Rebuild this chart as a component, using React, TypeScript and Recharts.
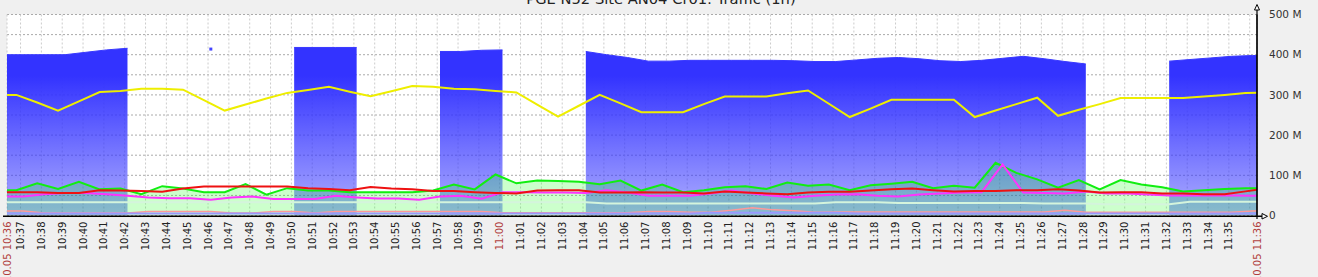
import React from 'react';
import { ComposedChart, Area, Line, Scatter, XAxis, YAxis, CartesianGrid } from 'recharts';

// Time axis: minutes after 10:36:00
const START = 21 / 60; // 10:36:21
const END = 60 + 21 / 60; // 11:36:21
const DATE = '10.05';
const TITLE = 'PGE N52 Site AN04 Cr01: Traffic (1h)';

// samples at hh:mm:08 (first = 10:36:08)
const OFF_A = 8 / 60;
// samples at hh:mm:48 (first = 10:35:48)
const OFF_B = 48 / 60 - 1;

// Incoming (blue, gradient) – M
const blueVals: (number | null)[] = [
  400, 400, 400, 400, 406, 412, 416, null, null, null,
  414, null, null, null, 418, 418, 418, 418, null, null,
  null, 408, 408, 411, 412, null, null, null, 408, 400,
  393, 384, 384, 386, 386, 386, 386, 386, 385, 383,
  383, 387, 391, 393, 390, 385, 383, 386, 391, 396,
  390, 383, 377, null, null, null, 384, 388, 392, 396,
  398, 398,
];

// Yellow line – M
const yellowVals = [
  300, 300, 281, 261, 284, 307, 310, 315, 315, 313,
  287, 261, 276, 291, 305, 312, 320, 308, 297, 309,
  322, 320, 315, 314, 310, 306, 276, 246, 273, 300,
  279, 257, 257, 257, 277, 296, 296, 296, 304, 311,
  278, 245, 266, 288, 288, 288, 288, 245, 261, 277,
  293, 248, 263, 277, 292, 292, 292, 292, 296, 300,
  305, 306,
];

// Green filled region – M
const greenVals = [
  63, 63, 80, 66, 84, 65, 67, 53, 73, 67,
  58, 58, 78, 52, 68, 62, 62, 58, 58, 58,
  58, 62, 77, 65, 102, 80, 87, 86, 84, 78,
  87, 62, 77, 58, 63, 70, 73, 66, 82, 74,
  77, 63, 75, 79, 84, 68, 74, 69, 131, 106,
  90, 69, 88, 65, 88, 77, 70, 60, 63, 66,
  68, 68,
];

// Red line – M
const redVals = [
  58, 58, 58, 56, 56, 63, 62, 61, 59, 67,
  72, 72, 72, 72, 72, 68, 66, 63, 71, 67,
  65, 61, 61, 58, 56, 55, 62, 63, 63, 57,
  57, 58, 57, 57, 55, 60, 57, 55, 53, 57,
  59, 59, 62, 65, 67, 63, 60, 61, 61, 63,
  63, 65, 62, 57, 58, 58, 55, 55, 53, 53,
  60, 67,
];

// Magenta line – M
const magentaVals = [
  47, 47, 53, 56, 56, 53, 49, 45, 43, 43,
  39, 45, 47, 41, 41, 41, 49, 45, 42, 42,
  39, 47, 49, 42, 58, 58, 57, 57, 56, 63,
  57, 49, 49, 49, 55, 62, 55, 49, 45, 49,
  52, 53, 49, 47, 52, 55, 57, 58, 127, 57,
  56, 55, 60, 55, 55, 52, 50, 50, 50, 50,
  49, 49,
];

// Pale green line – M
const paleVals = [
  33, 33, 33, 33, 33, 33, 33, 33, 33, 33,
  33, 33, 33, 33, 33, 33, 33, 33, 33, 33,
  33, 33, 33, 33, 33, 33, 33, 33, 33, 30,
  30, 30, 30, 30, 30, 30, 30, 30, 30, 30,
  33, 33, 33, 31, 31, 31, 31, 31, 31, 31,
  30, 30, 30, 28, 28, 28, 28, 34, 34, 34,
  34, 34,
];

// Salmon line – M
const salmonVals = [
  11, 11, 6, 6, 6, 6, 6, 10, 10, 10,
  10, 6, 6, 10, 10, 6, 10, 10, 10, 10,
  10, 10, 10, 10, 7, 7, 7, 7, 7, 7,
  7, 10, 10, 8, 8, 13, 19, 14, 12, 8,
  9, 9, 9, 9, 9, 9, 9, 9, 9, 9,
  9, 13, 8, 8, 8, 8, 8, 8, 8, 8,
  11, 11,
];

// Lavender line – M
const lavenderVals = [
  5, 5, 5, 5, 5, 5, 5, 5, 5, 5,
  5, 5, 5, 5, 5, 5, 5, 5, 5, 5,
  5, 5, 5, 5, 5, 5, 5, 5, 5, 5,
  5, 5, 5, 5, 7, 7, 7, 7, 7, 7,
  7, 5, 5, 5, 5, 5, 5, 5, 5, 5,
  5, 5, 5, 5, 5, 5, 5, 5, 5, 5,
  5, 5,
];

const Y_TICKS = [0, 50, 100, 150, 200, 250, 300, 350, 400, 450, 500];
const MINUTE_TICKS = Array.from({ length: 60 }, (_, i) => i + 1);
const X_TICKS = [START, ...MINUTE_TICKS, END];
const RED_MINUTES = [24];

const toPts = (vals: (number | null)[], off: number) => vals.map((v, i) => ({ t: i + off, v }));

const blueData = toPts(blueVals, OFF_A);
const blueDots = blueData.filter((p, i) => p.v != null && blueVals[i - 1] == null && blueVals[i + 1] == null);
const yellowData = toPts(yellowVals, OFF_B);
const greenData = toPts(greenVals, OFF_B);
const redData = toPts(redVals, OFF_B);
const magentaData = toPts(magentaVals, OFF_A);
const paleData = toPts(paleVals, OFF_A);
const salmonData = toPts(salmonVals, OFF_A);
const lavenderData = toPts(lavenderVals, OFF_A);

const pad = (n: number) => (n < 10 ? '0' + n : '' + n);
const hm = (min: number) => {
  const total = 10 * 60 + 36 + Math.floor(min);
  return `${pad(Math.floor(total / 60))}:${pad(total % 60)}`;
};
const xLabel = (t: number) => {
  if (t === START) return `${DATE} ${hm(0)}`;
  if (t === END) return `${DATE} ${hm(60)}`;
  if (t === 60) return '';
  return hm(t);
};

const FONT = 'DejaVu Sans';

const XTick = (props: any) => {
  const { x, y, payload } = props;
  const t = payload.value;
  const label = xLabel(t);
  if (!label) return null;
  const red = t === START || t === END || RED_MINUTES.includes(t);
  return (
    <text
      x={x}
      y={y}
      transform={`rotate(-90 ${x} ${y})`}
      textAnchor="end"
      dy="0.36em"
      fontSize={10}
      fontFamily={FONT}
      fill={red ? '#b04040' : '#222'}
    >
      {label}
    </text>
  );
};

const YTick = (props: any) => {
  const { x, y, payload } = props;
  const v = payload.value;
  const label = v === 0 ? '0' : v % 100 === 0 ? `${v} M` : '';
  if (!label) return null;
  return (
    <text x={x} y={y} dy="0.36em" textAnchor="start" fontSize={10.5} fontFamily={FONT} fill="#333">
      {label}
    </text>
  );
};

const Square = (props: any) => {
  const { cx, cy } = props;
  if (cx == null || cy == null) return null;
  return <rect x={cx - 1.5} y={cy - 1.5} width={3} height={3} fill="#4444ff" />;
};

export default function App() {
  return (
    <div
      style={{
        position: 'fixed',
        left: 0,
        top: 0,
        width: 1318,
        height: 277,
        background: '#f0f0f0',
        overflow: 'hidden',
        fontFamily: FONT,
      }}
    >
      <svg width={0} height={0} style={{ position: 'absolute' }}>
        <defs>
          <linearGradient id="zbxBlue" x1="0" y1="0" x2="0" y2="1">
            <stop offset="0" stopColor="#3333ff" stopOpacity={1} />
            <stop offset="0.17" stopColor="#3333ff" stopOpacity={1} />
            <stop offset="1" stopColor="#3333ff" stopOpacity={0.4} />
          </linearGradient>
        </defs>
      </svg>
      <div style={{ position: 'absolute', left: 0, top: 0 }}>
        <ComposedChart width={1318} height={277} margin={{ top: 14.5, right: 0, bottom: 0, left: 7 }}>
          <CartesianGrid vertical={false} fill="#ffffff" stroke="#aaaaaa" strokeDasharray="2 2" />
          <CartesianGrid horizontal={false} stroke="#cccccc" strokeDasharray="2 2" />
          <XAxis
            dataKey="t"
            type="number"
            domain={[START, END]}
            allowDataOverflow
            ticks={X_TICKS}
            interval={0}
            tickLine={false}
            tickSize={0}
            tickMargin={6}
            axisLine={false}
            height={61.5}
            tick={<XTick />}
          />
          <YAxis
            orientation="right"
            type="number"
            domain={[0, 500]}
            allowDataOverflow
            ticks={Y_TICKS}
            interval={0}
            width={61}
            tickLine={false}
            tickSize={0}
            tickMargin={12}
            axisLine={{ stroke: '#000', strokeWidth: 1.2 }}
            tick={<YTick />}
          />
          <Line data={greenData} dataKey="v" type="linear" stroke="#11ee11" strokeWidth={2} dot={false} isAnimationActive={false} />
          <Area
            data={blueData}
            dataKey="v"
            type="linear"
            stroke="#3838ff"
            strokeWidth={1}
            fill="url(#zbxBlue)"
            fillOpacity={1}
            connectNulls={false}
            dot={false}
            activeDot={false}
            isAnimationActive={false}
          />
          <Scatter data={blueDots} dataKey="v" shape={<Square />} isAnimationActive={false} />
          <Area
            data={greenData}
            dataKey="v"
            type="linear"
            stroke="none"
            fill="#00ff00"
            fillOpacity={0.2}
            dot={false}
            activeDot={false}
            isAnimationActive={false}
          />
          <Line data={paleData} dataKey="v" type="linear" stroke="#d4f4dc" strokeWidth={2} dot={false} isAnimationActive={false} />
          <Line data={salmonData} dataKey="v" type="linear" stroke="#ff9999" strokeWidth={1.5} dot={false} isAnimationActive={false} />
          <Line data={lavenderData} dataKey="v" type="linear" stroke="#9999ff" strokeWidth={2} dot={false} isAnimationActive={false} />
          <Line data={magentaData} dataKey="v" type="linear" stroke="#ff33ff" strokeWidth={2} dot={false} isAnimationActive={false} />
          <Line data={redData} dataKey="v" type="linear" stroke="#ee1111" strokeWidth={2} dot={false} isAnimationActive={false} />
          <Line data={yellowData} dataKey="v" type="linear" stroke="#eeee00" strokeWidth={2} dot={false} isAnimationActive={false} />
        </ComposedChart>
      </div>
      <svg width={1318} height={277} style={{ position: 'absolute', left: 0, top: 0, pointerEvents: 'none' }}>
        <text x={661} y={3.5} textAnchor="middle" fontSize={14.7} fontFamily={FONT} fill="#222">
          {TITLE}
        </text>
        <line x1={3} y1={216.3} x2={1262} y2={216.3} stroke="#000" strokeWidth={1.6} />
        <line x1={1257} y1={9} x2={1257} y2={219} stroke="#000" strokeWidth={1.2} />
        <polygon points="1254.5,10 1257,4.5 1259.5,10" fill="#fff" stroke="#000" strokeWidth={1} />
        <polygon points="1262,213.5 1267.5,216.3 1262,219" fill="#fff" stroke="#000" strokeWidth={1} />
      </svg>
    </div>
  );
}
